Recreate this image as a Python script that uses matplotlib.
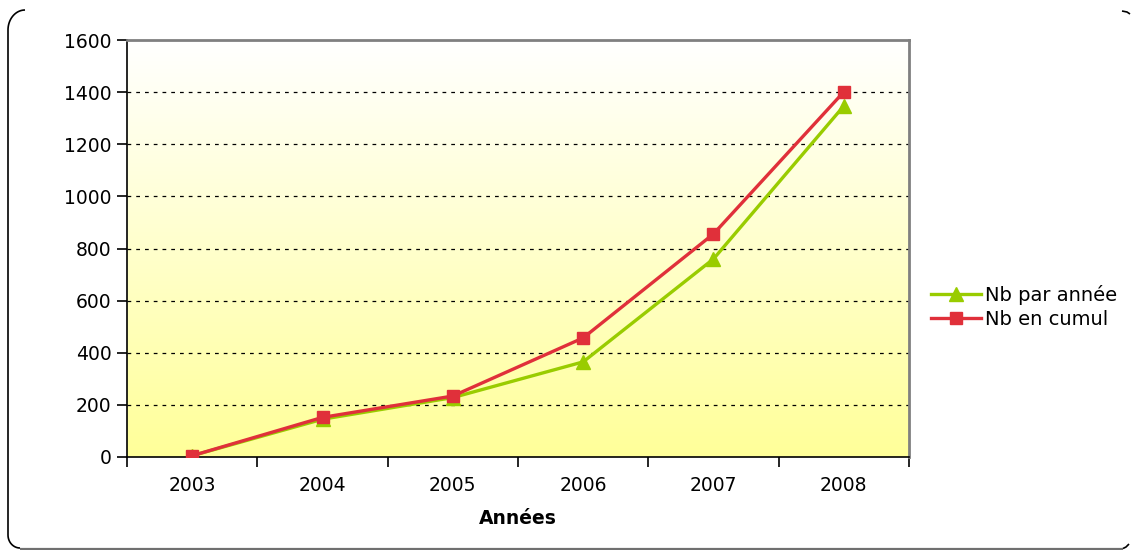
import numpy as np
import matplotlib
matplotlib.use("Agg")
import matplotlib.pyplot as plt
from matplotlib.lines import Line2D
from matplotlib.colors import LinearSegmentedColormap

years = ["2003", "2004", "2005", "2006", "2007", "2008"]
nb_par_annee = [5, 145, 228, 365, 760, 1347]
nb_en_cumul = [5, 152, 234, 457, 856, 1401]
y_ticks = [0, 200, 400, 600, 800, 1000, 1200, 1400, 1600]

W, H = 1131, 550
fig = plt.figure(figsize=(W / 100, H / 100), dpi=100)
fig.patch.set_facecolor("white")


def px_line(xs, ys, color, lw):
    fig.add_artist(Line2D([v / W for v in xs], [1 - v / H for v in ys],
                          transform=fig.transFigure, color=color,
                          linewidth=lw, solid_capstyle="butt"))


# cropped rounded frame of the original screenshot
t = np.linspace(0, np.pi / 2, 20)
tl_x = list(25 - 17 * np.cos(t))
tl_y = list(30 - 20 * np.sin(t))
px_line(tl_x[::-1] + [8], tl_y[::-1] + [535], "black", 1.2)
px_line([8] + list(8 + 12 * (1 - np.cos(t))), [535] + list(535 + 13 * np.sin(t)), "black", 1.2)
px_line([20, 1123], [548.5, 548.5], "#707070", 1.6)
px_line([1123, 1126, 1129], [548.5, 547, 544], "black", 1.2)
px_line([1122, 1127, 1130], [11, 12, 14], "black", 1.2)

ax = fig.add_axes([127 / W, 1 - 457 / H, (909 - 127) / W, (457 - 40) / H])
x = np.arange(len(years))
ax.set_xlim(-0.5, len(years) - 0.5)
ax.set_ylim(0, 1600)

# gradient background
cmap = LinearSegmentedColormap.from_list("bg", ["#FFFF99", "#FFFFFF"])
grad = np.linspace(0, 1, 256).reshape(-1, 1)
ax.imshow(grad, aspect="auto", cmap=cmap, origin="lower",
          extent=[-0.5, len(years) - 0.5, 0, 1600], zorder=0)

for yv in y_ticks[1:-1]:
    ax.axhline(yv, color="black", linestyle=(0, (3, 4)), linewidth=0.9, zorder=1)

ax.plot(x, nb_par_annee, color="#99CC00", linewidth=2.4, marker="^",
        markersize=10, label="Nb par année", zorder=3)
ax.plot(x, nb_en_cumul, color="#E0303A", linewidth=2.4, marker="s",
        markersize=8, label="Nb en cumul", zorder=4)

ax.set_yticks(y_ticks)
ax.set_yticklabels([str(v) for v in y_ticks], fontsize=13.5)
ax.set_xticks(x)
ax.set_xticklabels(years, fontsize=13.5)
ax.tick_params(axis="x", length=0, pad=14)
ax.set_xticks(np.arange(-0.5, len(years), 1), minor=True)
ax.tick_params(axis="x", which="minor", length=7, width=1.2, color="black")
ax.tick_params(axis="y", length=7, width=1.2, color="black", pad=4, direction="out")

for s in ["left", "bottom"]:
    ax.spines[s].set_color("black")
    ax.spines[s].set_linewidth(1.2)
for s in ["top", "right"]:
    ax.spines[s].set_color("#808080")
    ax.spines[s].set_linewidth(2.0)

ax.set_xlabel("Années", fontsize=13.5, fontweight="bold", labelpad=10)

leg = fig.legend(loc="center left", bbox_to_anchor=(913 / W, 1 - 307 / H),
                 frameon=False, fontsize=14, handlelength=2.6,
                 handletextpad=0.2, labelspacing=0.25)

fig.savefig("out.png", dpi=100, facecolor="white")
